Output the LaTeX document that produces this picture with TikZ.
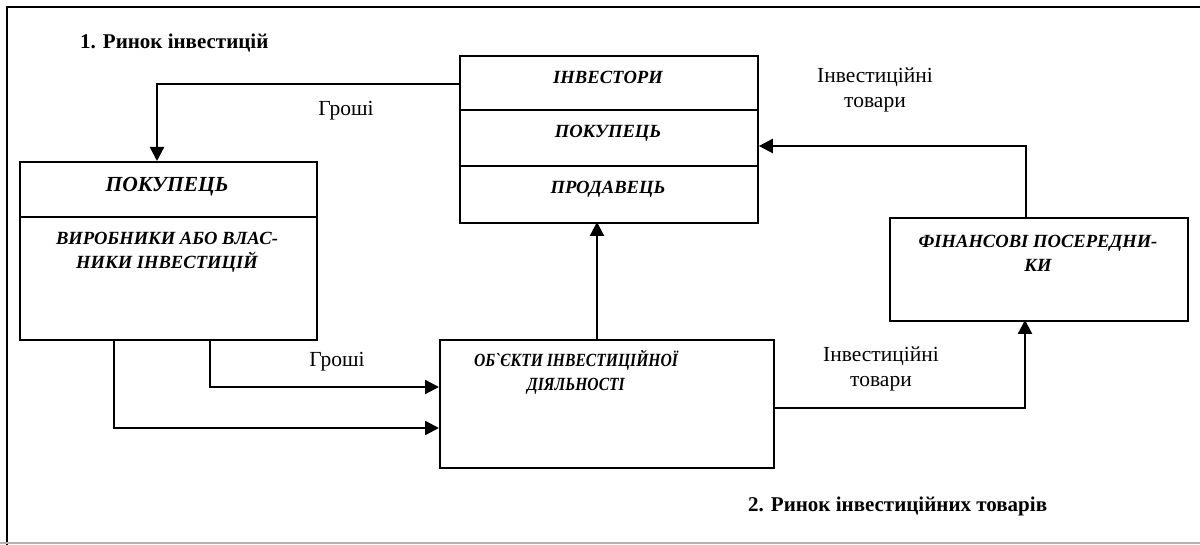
\documentclass[tikz,border=0pt]{standalone}
\usepackage{fontspec}
\setmainfont{Liberation Serif}
\usetikzlibrary{arrows.meta}
\begin{document}
\begin{tikzpicture}[x=1pt,y=-1pt,
  box/.style={draw,line width=1.8pt,rectangle,anchor=north west,inner sep=0pt},
  divider/.style={line width=1.8pt},
  boxtxt/.style={font=\fontsize{18.6}{24}\selectfont\bfseries\itshape,align=center,inner sep=0pt},
  bigtxt/.style={font=\fontsize{21.5}{24}\selectfont\bfseries\itshape,align=center,inner sep=0pt},
  lbl/.style={font=\fontsize{21.5}{25.5}\selectfont,align=center,inner sep=0pt},
  ttl/.style={font=\fontsize{21}{24}\selectfont\bfseries,inner sep=0pt},
  conn/.style={line width=2.3pt,-{Triangle[length=14pt,width=14pt]}}]
\useasboundingbox (0,0) rectangle (1200,545);
% frame
\draw[line width=2.5pt] (7,545) -- (7,7) -- (1200,7);
\draw[line width=2pt,black!30] (0,543) -- (1200,543);
% titles
\node[ttl,anchor=west] (t1) at (80,43) {1. Ринок інвестицій};
\node[ttl,anchor=west] (t2) at (748,506) {2. Ринок інвестиційних товарів};
% investors box
\node[box,minimum width=298pt,minimum height=167pt] (inv) at (459,55) {};
\draw[divider] (459,110) -- (757,110);
\draw[divider] (459,166) -- (757,166);
\node[boxtxt] (inv1) at (608,77) {ІНВЕСТОРИ};
\node[boxtxt] (inv2) at (608,133) {ПОКУПЕЦЬ};
\node[boxtxt] (inv3) at (608,189) {ПРОДАВЕЦЬ};
% buyer box
\node[box,minimum width=297pt,minimum height=178pt] (buy) at (19,161) {};
\draw[divider] (19,217) -- (316,217);
\node[bigtxt] (buy1) at (167,187) {ПОКУПЕЦЬ};
\node[boxtxt] (buy2) at (167,252) {ВИРОБНИКИ АБО ВЛАС-\\НИКИ ІНВЕСТИЦІЙ};
% objects box
\node[box,minimum width=334pt,minimum height=128pt] (obj) at (439,339) {};
\node[boxtxt] (obj1) at (576,372) {\scalebox{0.84}[1]{ОБ\textasciigrave ЄКТИ ІНВЕСТИЦІЙНОЇ}\\\scalebox{0.84}[1]{ДІЯЛЬНОСТІ}};
% financial intermediaries box
\node[box,minimum width=298pt,minimum height=103pt] (fin) at (889,217) {};
\node[boxtxt] (fin1) at (1038,253) {ФІНАНСОВІ ПОСЕРЕДНИ-\\КИ};
% connectors
\coordinate (a1) at (459,84);
\draw[conn] (a1) -- (157,84) -- (157,161 |- buy.north);
\node[lbl] (g1) at (346,111) {Гроші};
\draw[conn] (210,339) -- (210,387) -- (obj.west |- 0,387);
\node[lbl] (g2) at (337,362) {Гроші};
\draw[conn] (114,339) -- (114,428) -- (obj.west |- 0,428);
\draw[conn] (597,339) -- (597,222);
\draw[conn] (obj.east |- 0,408) -- (1025,408) -- (1025,320);
\node[lbl] (l1) at (881,369) {Інвестиційні\\товари};
\draw[conn] (1026,217) -- (1026,146) -- (inv.east |- 0,146);
\node[lbl] (l2) at (875,90) {Інвестиційні\\товари};
\end{tikzpicture}
\end{document}
